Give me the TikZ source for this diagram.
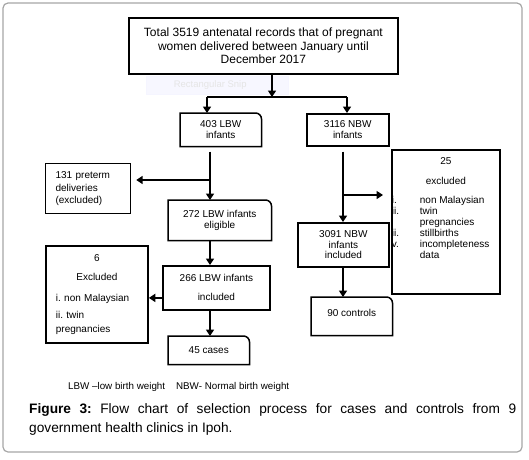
\documentclass[tikz,border=0pt]{standalone}
\usepackage{fontspec}
\setmainfont{Liberation Sans}
\usepackage{tikz}
\usetikzlibrary{
        arrows.meta,
        calc,
        positioning
    }
\frenchspacing
\tikzset{>={Triangle[length=6.5pt,width=8pt]}}
\tikzset{box/.style={draw,line width=1.5pt,fill=white,inner sep=0pt,anchor=north west,align=center,font=\fontsize{10}{11}\selectfont}}

\begin{document}
\begin{tikzpicture}[x=1pt,y=-1pt,line join=miter]
        \tikzset{flow/.style={->,line width=2.2pt}}
        \useasboundingbox (0,0) rectangle (529,459);
        \draw[gray!70,line width=1.2pt,rounded corners=5pt] (3,3) rectangle (522,452);
        % faint snip left in the figure
        \node[box,draw=blue!4,line width=0.4pt,fill=blue!3,minimum width=142pt,minimum height=18pt,text=gray!20,font=\fontsize{9.5}{10}\selectfont] (snip) at (146,76) {\hspace{-14pt}Rectangular Snip};
        \node[box,line width=1.8pt,minimum width=269pt,minimum height=56pt,font=\fontsize{12}{13.5}\selectfont] (total) at (128,17) {Total 3519 antenatal records that of pregnant\\women delivered between January until\\December 2017};
        \node[box,draw=none,minimum width=80pt,minimum height=32pt] (lbw) at (180,113) {403 LBW\\infants};
        \node[box,minimum width=82pt,minimum height=32pt] (nbw) at (306,113) {3116 NBW\\infants};
        \node[box,line width=1.2pt,minimum width=85pt,minimum height=50pt,text width=65pt,align=left,font=\fontsize{10}{12.5}\selectfont] (pre) at (45,163) {131 preterm\\deliveries\\(excluded)};
        \node[box,draw=none,minimum width=102pt,minimum height=39pt] (elig) at (168,200) {272 LBW infants\\eligible};
        \node[box,line width=1.8pt,minimum width=107pt,minimum height=44pt] (inc) at (162,265) {266 LBW infants\\[8pt]included};
        \node[box,line width=1.8pt,minimum width=102pt,minimum height=97pt,text width=82pt,align=left] (exa) at (45,245) {\centering 6\\[8pt]Excluded\par\vspace{10pt}\raggedright i. non Malaysian\\[6pt]ii. twin\\[3pt]pregnancies};
        \node[box,draw=none,minimum width=80pt,minimum height=27pt] (cases) at (168,336) {45 cases};
        \node[box,line width=1.8pt,minimum width=91pt,minimum height=44pt,font=\fontsize{10}{10.5}\selectfont] (incn) at (297,222) {3091 NBW\\infants\\included};
        \node[box,line width=1.8pt,minimum width=108pt,minimum height=144pt] (exb) at (391,149) {\parbox[c][140pt][t]{108pt}{\vspace*{6pt}\centering 25\\[9pt]excluded\par\vspace{8pt}\raggedright
            \makebox[28pt][l]{i.}non Malaysian\\
            \makebox[28pt][l]{ii.}twin\\
            \makebox[28pt][l]{}pregnancies\\
            \makebox[28pt][l]{ii.}stillbirths\\
            \makebox[28pt][l]{v.}incompleteness\\
            \makebox[28pt][l]{}data}};
        \node[box,draw=none,minimum width=80pt,minimum height=37pt] (ctrl) at (311,297) {\raisebox{0pt}[0pt][0pt]{90 controls}};
        % boxes with one round corner
        \foreach \n in {lbw,elig,cases,ctrl}
            \draw[line width=1.5pt] (\n.north) -| (\n.south west) -| ([yshift=-6pt]\n.north east)
                .. controls ([yshift=-2.7pt]\n.north east) and ([xshift=-2.7pt]\n.north east) .. ([xshift=-6pt]\n.north east) -- cycle;
        % connectors
        \coordinate (colL) at (210,0);
        \coordinate (colR) at (343,0);
        \coordinate (split) at (272,97);
        \coordinate (splitL) at (207,97);
        \coordinate (splitR) at (347,97);
        \coordinate (brL) at (210,180);
        \coordinate (brR) at (343,195);
        \draw[flow] (total.south -| split) -- (split);
        \draw[line width=2pt] (splitL) -- (splitR);
        \draw[flow,line width=2pt] (splitL) -- (splitL |- lbw.north);
        \draw[flow,line width=2pt] (splitR) -- (splitR |- nbw.north);
        \draw[flow] ([yshift=-5pt]lbw.south -| colL) -- (elig.north -| colL);
        \draw[flow,line width=2pt,shorten >=5pt] (brL) -- (brL -| pre.east);
        \draw[flow] (elig.south -| colL) -- (inc.north -| colL);
        \draw[flow,line width=2pt] ([yshift=-10pt]inc.west) -- ([yshift=-10pt]inc.west -| exa.east);
        \draw[flow] (inc.south -| colL) -- (cases.north -| colL);
        \draw[flow] ([yshift=-5pt]nbw.south -| colR) -- (incn.north -| colR);
        \draw[flow,line width=2pt,shorten >=8pt] (brR) -- (brR -| exb.west);
        \draw[flow] (incn.south -| colR) -- (ctrl.north -| colR);
        % legend and caption
        \node[anchor=west,inner sep=0pt,font=\fontsize{9.8}{11}\selectfont] (legend) at (68,387) {LBW –low birth weight\hspace{11pt}NBW- Normal birth weight};
        \node[anchor=north west,inner sep=0pt,text width=487pt,align=justify,font=\fontsize{13.7}{19}\selectfont] (caption) at (29,403) {\textbf{Figure 3:} Flow chart of selection process for cases and controls from 9\linebreak government health clinics in Ipoh.};
\end{tikzpicture}
\end{document}
